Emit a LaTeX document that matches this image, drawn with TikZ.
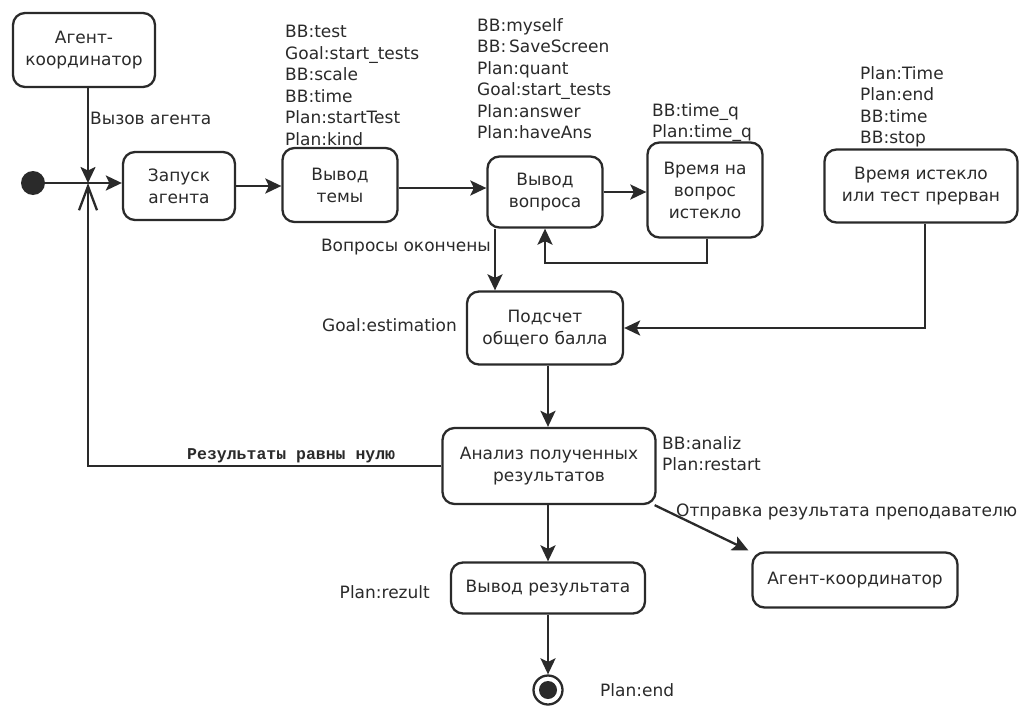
\documentclass[tikz,border=0pt]{standalone}
\usepackage{fontspec}
\setmainfont{DejaVu Sans}
\newfontfamily\typefont{Liberation Mono}
\usetikzlibrary{arrows.meta,calc}
\definecolor{ink}{HTML}{2A2A2A}
\tikzset{
  stbox/.style={draw=ink, line width=2.3pt, rounded corners=12pt, align=center, inner sep=0pt,
     text=ink, font=\fontsize{17}{22}\selectfont},
  lbl/.style={inner sep=0pt, align=left, text=ink, font=\fontsize{17}{21.5}\selectfont},
  conn/.style={draw=ink, line width=2.3pt, -{Stealth[length=16pt,width=15pt,inset=3.5pt]}},
  openconn/.style={draw=ink, line width=2.3pt, -{Straight Barb[length=24pt,width=18pt,line width=2.3pt]}}
}
\begin{document}
\begin{tikzpicture}[x=1pt,y=-1pt]
\useasboundingbox[fill=white] (0,0) rectangle (1025,717);

% states
\node[stbox, minimum width=142pt, minimum height=74pt] (coordA) at (84,50) {Агент-\\координатор};
\node[stbox, minimum width=112pt, minimum height=68pt] (zap) at (179,186) {Запуск\\агента};
\node[stbox, minimum width=115pt, minimum height=74pt] (tema) at (340,185) {Вывод\\темы};
\node[stbox, minimum width=115pt, minimum height=71pt] (vq) at (545,192) {Вывод\\вопроса};
\node[stbox, minimum width=115pt, minimum height=95pt] (tq) at (705,190) {Время на\\вопрос\\истекло};
\node[stbox, minimum width=193pt, minimum height=73pt] (te) at (921,186) {Время истекло\\или тест прерван};
\node[stbox, minimum width=156pt, minimum height=73pt] (ps) at (545,328) {Подсчет\\общего балла};
\node[stbox, minimum width=213pt, minimum height=76pt] (an) at (549,466) {Анализ полученных\\результатов};
\node[stbox, minimum width=194pt, minimum height=51pt] (vr) at (548,588) {Вывод результата};
\node[stbox, minimum width=205pt, minimum height=55pt] (ag) at (855,580) {Агент-координатор};

\node[circle, fill=ink, minimum size=24pt, inner sep=0pt] (init) at (33,183) {};
\node[circle, draw=ink, line width=2.3pt, minimum size=29pt, inner sep=0pt] (final) at (548,690) {};
\node[circle, fill=ink, minimum size=18pt, inner sep=0pt] (finalin) at (final) {};

\coordinate (j) at (88,183);
\coordinate (vqo) at ($(vq.south)+(-50,0)$);
\coordinate (temao) at ($(tema.east)+(0,3)$);
\coordinate (tqo) at ($(tq.south)+(2,0)$);
\coordinate (teo) at ($(te.south)+(4,0)$);
\coordinate (pso) at ($(ps.south)+(3,0)$);
\coordinate (ano) at ($(an.south east)+(-2,0)$);
\coordinate (agi) at ($(ag.north west)+(-3,-1)$);

% connectors
\draw[conn] (j |- coordA.south) -- (j);
\draw[conn] (init) -- (init -| zap.west);
\draw[openconn] (an.west) -- (j |- an.west) -- (j);
\draw[conn] (zap.east) -- (zap.east -| tema.west);
\draw[conn] (temao) -- (temao -| vq.west);
\draw[conn] (vq.east) -- (vq.east -| tq.west);
\draw[conn] (tqo) -- ++(0,24) -| (vq.south);
\draw[conn] (vqo) -- (vqo |- ps.north);
\draw[conn] (teo) |- (ps.east);
\draw[conn] (pso) -- (pso |- an.north);
\draw[conn] (an.south -| vr.north) -- (vr.north);
\draw[conn] (vr.south) -- (final.north);
\draw[conn] (ano) -- (agi);

% labels
\node[lbl, anchor=west] (lcall) at (90,118) {Вызов агента};
\node[lbl, anchor=north west] (ltema) at (285,25) {BB:test\\Goal:start\_tests\\BB:scale\\BB:time\\Plan:startTest\\Plan:kind};
\node[lbl, anchor=north west] (lvq) at (477,18) {BB:myself\\BB:\,SaveScreen\\Plan:quant\\Goal:start\_tests\\Plan:answer\\Plan:haveAns};
\node[lbl, anchor=north west] (ltq) at (652,103) {BB:time\_q\\Plan:time\_q};
\node[lbl, anchor=north west] (lte) at (860,66) {Plan:Time\\Plan:end\\BB:time\\BB:stop};
\node[lbl, anchor=east] (lqend) at (491,247) {Вопросы окончены};
\node[lbl, anchor=east] (lest) at (457,325) {Goal:estimation};
\node[lbl, anchor=north west] (lan) at (662,436) {BB:analiz\\Plan:restart};
\node[lbl, anchor=east] (lrez) at (430,592) {Plan:rezult};
\node[lbl, anchor=west] (lend) at (600,690) {Plan:end};
\node[lbl, anchor=west] (lsend) at (676,512) {Отправка результата преподавателю};
\node[inner sep=0pt, anchor=west, text=ink, font=\typefont\bfseries\fontsize{16.5}{18}\selectfont] (lzero) at (187,456) {Результаты равны нулю};
\end{tikzpicture}
\end{document}
